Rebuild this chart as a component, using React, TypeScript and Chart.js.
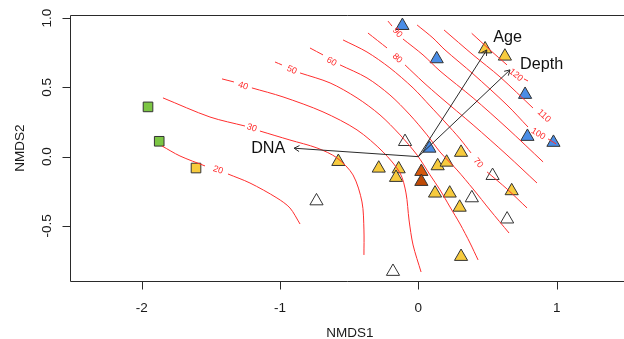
import React, { useEffect, useRef } from "react";
import { Chart, registerables } from "chart.js";

Chart.register(...registerables);

type Pt = [number, number];

// ---------- axes ----------
const xMin = -2.518;
const xMax = 1.487;
const yMin = -0.897;
const yMax = 1.022;
const xTicks = [-2, -1, 0, 1];
const xTickLabels = ["-2", "-1", "0", "1"];
const yTicks = [-0.5, 0, 0.5, 1];
const yTickLabels = ["-0.5", "0.0", "0.5", "1.0"];
const xTitle = "NMDS1";
const yTitle = "NMDS2";

// ---------- site scores ----------
const greenSquares: Pt[] = [[-1.954, 0.359], [-1.873, 0.111]];
const yellowSquares: Pt[] = [[-1.607, -0.082]];
const blueTriangles: Pt[] = [
  [-0.115, 0.945], [0.133, 0.705], [0.772, 0.448], [0.789, 0.145], [0.977, 0.102], [0.080, 0.060],
];
const yellowTriangles: Pt[] = [
  [0.483, 0.776], [0.626, 0.724], [0.309, 0.030], [-0.578, -0.036], [-0.286, -0.084],
  [-0.142, -0.089], [-0.161, -0.151], [0.140, -0.067], [0.205, -0.041], [0.121, -0.264],
  [0.227, -0.264], [0.299, -0.366], [0.309, -0.721], [0.675, -0.247],
];
const orangeTriangles: Pt[] = [[0.022, -0.108], [0.022, -0.180]];
const whiteTriangles: Pt[] = [
  [-0.096, 0.108], [-0.736, -0.320], [-0.183, -0.829], [0.537, -0.137], [0.387, -0.298], [0.642, -0.451],
];

// ---------- ordisurf contours (segments split at label gaps) ----------
const contourLevels = [20, 30, 40, 50, 60, 70, 80, 90, 100, 110, 120];
const contour20: Pt[][] = [
  [[-1.853, 0.077], [-1.723, 0.005], [-1.542, -0.067]],
  [[-1.376, -0.125], [-1.217, -0.19], [-1.022, -0.298], [-0.928, -0.37], [-0.855, -0.486]],
];
const contour30: Pt[][] = [
  [[-1.846, 0.424], [-1.506, 0.286], [-1.253, 0.221]],
  [[-1.145, 0.185], [-0.928, 0.12], [-0.733, 0.063], [-0.588, -0.009], [-0.472, -0.132], [-0.407, -0.327], [-0.393, -0.529], [-0.393, -0.709]],
];
const contour40: Pt[][] = [
  [[-1.419, 0.561], [-1.333, 0.539]],
  [[-1.203, 0.496], [-0.978, 0.431], [-0.689, 0.323], [-0.443, 0.193], [-0.255, 0.034], [-0.132, -0.118], [-0.089, -0.262], [-0.067, -0.457], [-0.038, -0.637], [0.02, -0.832]],
];
const contour50: Pt[][] = [
  [[-1.036, 0.683], [-0.986, 0.662]],
  [[-0.855, 0.604], [-0.638, 0.532], [-0.443, 0.424], [-0.277, 0.301], [-0.132, 0.157], [-0.009, 0.012], [0.085, -0.132], [0.157, -0.24], [0.229, -0.363], [0.302, -0.486], [0.374, -0.623], [0.432, -0.745]],
];
const contour60: Pt[][] = [
  [[-0.783, 0.784], [-0.689, 0.734]],
  [[-0.566, 0.662], [-0.371, 0.568], [-0.205, 0.445], [-0.06, 0.301], [0.063, 0.157], [0.157, 0.034], [0.28, -0.096], [0.396, -0.233], [0.518, -0.385], [0.656, -0.551]],
];
const contour70: Pt[][] = [
  [[-0.544, 0.842], [-0.371, 0.755], [-0.205, 0.64], [-0.038, 0.496], [0.085, 0.366], [0.193, 0.25], [0.302, 0.128], [0.381, 0.027]],
  [[0.497, -0.11], [0.641, -0.233], [0.786, -0.37]],
];
const contour80: Pt[][] = [
  [[-0.364, 0.892], [-0.226, 0.784]],
  [[-0.096, 0.662], [0.034, 0.539], [0.157, 0.431], [0.396, 0.229], [0.641, 0.012], [0.858, -0.19]],
];
const contour90: Pt[][] = [
  [[-0.219, 0.978], [-0.19, 0.942]],
  [[-0.111, 0.849], [0.034, 0.734], [0.157, 0.618], [0.396, 0.424], [0.641, 0.207], [0.902, -0.038]],
];
const contour100: Pt[][] = [
  [[-0.009, 0.95], [0.106, 0.856], [0.193, 0.77], [0.396, 0.597], [0.641, 0.373], [0.793, 0.214]],
  [[0.938, 0.128], [0.996, 0.092]],
];
const contour110: Pt[][] = [
  [[0.186, 0.914], [0.396, 0.734], [0.591, 0.575], [0.829, 0.351]],
];
const contour120: Pt[][] = [
  [[0.386, 0.89], [0.518, 0.77], [0.641, 0.662]],
  [[0.764, 0.561], [0.793, 0.546]],
];
const contours = [contour20, contour30, contour40, contour50, contour60, contour70, contour80, contour90, contour100, contour110, contour120];
const contourLabelPos: Pt[] = [
  [-1.448, -0.096], [-1.203, 0.207], [-1.268, 0.51], [-0.915, 0.626], [-0.627, 0.685],
  [0.432, -0.045], [-0.152, 0.71], [-0.152, 0.895], [0.866, 0.164], [0.909, 0.294], [0.706, 0.589],
];

// ---------- envfit vectors ----------
const vectorNames = ["DNA", "Age", "Depth"];
const vectorEnds: Pt[] = [[-0.898, 0.061], [0.495, 0.77], [0.663, 0.626]];
const vectorLabelPos: Pt[] = [[-1.085, 0.029], [0.645, 0.83], [0.892, 0.633]];

const FONT = "'Liberation Sans', Arial, Helvetica, sans-serif";
const RED = "#ff2e2e";
const INK = "#2a2a2a";

const toXY = (p: Pt) => ({ x: p[0], y: p[1] });

export default function App() {
  const ref = useRef<HTMLCanvasElement | null>(null);

  useEffect(() => {
    const canvas = ref.current;
    if (!canvas) return;
    const datasets: any[] = [];

    vectorEnds.forEach((e) => {
      datasets.push({
        data: [toXY([0, 0]), toXY(e)],
        showLine: true,
        borderColor: INK,
        borderWidth: 1,
        pointRadius: 0,
        order: 0,
      });
    });

    contours.forEach((c) =>
      c.forEach((seg) =>
        datasets.push({
          data: seg.map(toXY),
          showLine: true,
          borderColor: RED,
          borderWidth: 1,
          pointRadius: 0,
          tension: 0.3,
          order: 1,
        })
      )
    );

    const groups = [
      { pts: greenSquares, style: "rect", r: 6.8, fill: "#7cc644" },
      { pts: yellowSquares, style: "rect", r: 6.8, fill: "#f7cb3e" },
      { pts: whiteTriangles, style: "triangle", r: 7.6, fill: "#ffffff" },
      { pts: yellowTriangles, style: "triangle", r: 7.6, fill: "#f7cb3e" },
      { pts: orangeTriangles, style: "triangle", r: 7.6, fill: ["#d6580c", "#bf4a06"] },
      { pts: blueTriangles, style: "triangle", r: 7.6, fill: "#4a8de6" },
    ];
    groups.forEach((g) =>
      datasets.push({
        data: g.pts.map(toXY),
        pointStyle: g.style,
        pointRadius: g.r,
        backgroundColor: g.fill,
        borderColor: "#333333",
        borderWidth: 1,
        showLine: false,
        order: 2,
      })
    );

    const overlay = {
      id: "overlay",
      afterDatasetsDraw(chart: any) {
        const ctx = chart.ctx as CanvasRenderingContext2D;
        const xs = chart.scales.x;
        const ys = chart.scales.y;
        const px = (v: number) => xs.getPixelForValue(v);
        const py = (v: number) => ys.getPixelForValue(v);
        const area = chart.chartArea;

        // contour labels
        ctx.save();
        ctx.fillStyle = RED;
        ctx.font = `9px ${FONT}`;
        ctx.textAlign = "center";
        ctx.textBaseline = "middle";
        contours.forEach((c, i) => {
          const s1 = c[0];
          let a = s1[s1.length - 1];
          let b: Pt;
          if (c.length > 1) {
            b = c[1][0];
          } else {
            a = s1[s1.length - 2];
            b = s1[s1.length - 1];
          }
          const ang = Math.atan2(py(b[1]) - py(a[1]), px(b[0]) - px(a[0]));
          const lp = contourLabelPos[i];
          ctx.save();
          ctx.translate(px(lp[0]), py(lp[1]));
          ctx.rotate(ang);
          ctx.fillText(String(contourLevels[i]), 0, 0);
          ctx.restore();
        });
        ctx.restore();

        // arrow heads + labels
        ctx.save();
        ctx.strokeStyle = INK;
        ctx.lineWidth = 1;
        const ox = px(0), oy = py(0);
        vectorEnds.forEach((e) => {
          const tx = px(e[0]), ty = py(e[1]);
          const ang = Math.atan2(ty - oy, tx - ox);
          const L = 6;
          ctx.beginPath();
          ctx.moveTo(tx - L * Math.cos(ang - Math.PI / 6), ty - L * Math.sin(ang - Math.PI / 6));
          ctx.lineTo(tx, ty);
          ctx.lineTo(tx - L * Math.cos(ang + Math.PI / 6), ty - L * Math.sin(ang + Math.PI / 6));
          ctx.stroke();
        });
        ctx.fillStyle = "#111";
        ctx.font = `16.2px ${FONT}`;
        ctx.textAlign = "center";
        ctx.textBaseline = "alphabetic";
        vectorNames.forEach((n, i) => {
          const p = vectorLabelPos[i];
          ctx.fillText(n, px(p[0]), py(p[1]));
        });
        ctx.restore();

        // box + axes
        ctx.save();
        ctx.strokeStyle = INK;
        ctx.lineWidth = 1;
        const L = Math.round(area.left) + 0.5;
        const T = Math.round(area.top) + 0.5;
        const B = Math.round(area.bottom) + 0.5;
        const R = chart.width + 2;
        ctx.beginPath();
        ctx.moveTo(R, T);
        ctx.lineTo(L, T);
        ctx.lineTo(L, B);
        ctx.lineTo(R, B);
        ctx.stroke();
        ctx.beginPath();
        xTicks.forEach((v) => {
          const x = Math.round(px(v)) + 0.5;
          ctx.moveTo(x, B);
          ctx.lineTo(x, B + 8);
        });
        yTicks.forEach((v) => {
          const y = Math.round(py(v)) + 0.5;
          ctx.moveTo(L, y);
          ctx.lineTo(L - 8, y);
        });
        ctx.stroke();

        ctx.fillStyle = "#1a1a1a";
        ctx.font = `13.5px ${FONT}`;
        ctx.textAlign = "center";
        ctx.textBaseline = "alphabetic";
        xTicks.forEach((v, i) => ctx.fillText(xTickLabels[i], px(v), area.bottom + 30.5));
        ctx.fillText(xTitle, (area.left + area.right) / 2 + 3, area.bottom + 55.5);
        yTicks.forEach((v, i) => {
          ctx.save();
          ctx.translate(area.left - 19.5, py(v));
          ctx.rotate(-Math.PI / 2);
          ctx.fillText(yTickLabels[i], 0, 0);
          ctx.restore();
        });
        ctx.save();
        ctx.translate(24, (area.top + area.bottom) / 2);
        ctx.rotate(-Math.PI / 2);
        ctx.fillText(yTitle, 0, 0);
        ctx.restore();
        ctx.restore();
      },
    };

    const chart = new Chart(canvas, {
      type: "scatter",
      data: { datasets },
      options: {
        responsive: false,
        animation: false,
        devicePixelRatio: 1,
        events: [],
        layout: { autoPadding: false, padding: { top: 15, left: 0, right: 0, bottom: 0 } },
        plugins: { legend: { display: false }, tooltip: { enabled: false }, title: { display: false } },
        scales: {
          x: {
            type: "linear",
            min: xMin,
            max: xMax,
            grid: { display: false },
            border: { display: false },
            ticks: { display: false },
            afterFit: (s: any) => {
              s.height = 58;
            },
          },
          y: {
            type: "linear",
            min: yMin,
            max: yMax,
            grid: { display: false },
            border: { display: false },
            ticks: { display: false },
            afterFit: (s: any) => {
              s.width = 70;
            },
          },
        },
      } as any,
      plugins: [overlay],
    });
    return () => chart.destroy();
  }, []);

  return (
    <div style={{ position: "fixed", left: 0, top: 0, width: 624, height: 339, background: "#fff", overflow: "hidden" }}>
      <canvas ref={ref} width={624} height={339} style={{ display: "block", width: 624, height: 339 }} />
    </div>
  );
}
